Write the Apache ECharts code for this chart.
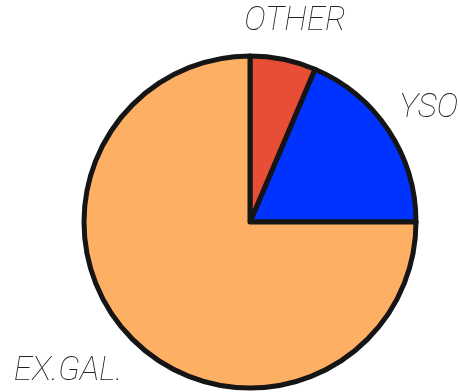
<!DOCTYPE html>
<html>
<head>
<meta charset="utf-8">
<script src="https://cdn.jsdelivr.net/npm/echarts@6/dist/echarts.min.js"></script>
<style>html,body{margin:0;padding:0;background:#fff}#c{width:458px;height:392px}</style>
</head>
<body>
<div id="c"></div>
<script>
const categories = ['YSO', 'OTHER', 'EX.GAL.'];
const values = [18.6, 6.4, 75.0];

const colors = { 'YSO': '#0033ff', 'OTHER': '#e84e36', 'EX.GAL.': '#fdb064' };
const labelOffsets = { 'YSO': [3, 3], 'OTHER': [3, 6], 'EX.GAL.': [-33, 1] };

const chart = echarts.init(document.getElementById('c'), null, { renderer: 'canvas' });
const center = [250, 222];
const R = 166;

chart.setOption({
  animation: false,
  backgroundColor: '#ffffff',
  series: [
    {
      type: 'pie',
      center: center,
      radius: [0, R],
      startAngle: 0,
      clockwise: false,
      silent: true,
      label: { show: false },
      labelLine: { show: false },
      itemStyle: { borderColor: '#151515', borderWidth: 5, borderJoin: 'round' },
      data: categories.map((c, i) => ({ name: c, value: values[i], itemStyle: { color: colors[c] } }))
    },
    {
      type: 'pie',
      center: center,
      radius: [R, R * 1.5],
      startAngle: 0,
      clockwise: false,
      silent: true,
      labelLine: { show: false },
      itemStyle: { color: 'rgba(0,0,0,0)', borderWidth: 0 },
      label: {
        show: true,
        position: 'inside',
        formatter: '{b}',
        fontFamily: 'Roboto',
        fontWeight: 100,
        fontStyle: 'italic',
        fontSize: 33,
        color: '#222222'
      },
      data: categories.map((c, i) => ({ name: c, value: values[i], label: { offset: labelOffsets[c] } }))
    }
  ]
});
</script>
</body>
</html>
